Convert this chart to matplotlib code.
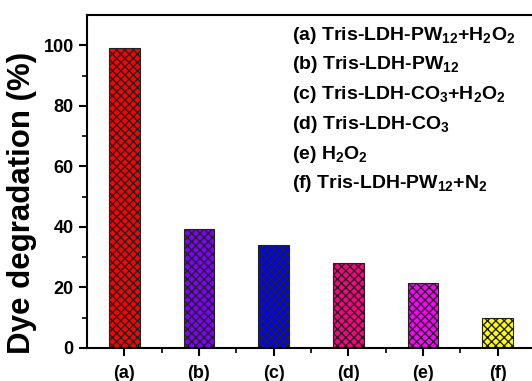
import matplotlib
matplotlib.use('Agg')
import matplotlib.pyplot as plt
import numpy as np

plt.rcParams['font.family'] = ['Liberation Sans', 'DejaVu Sans']
plt.rcParams['font.weight'] = 'bold'
plt.rcParams['mathtext.fontset'] = 'custom'
plt.rcParams['mathtext.rm'] = 'Liberation Sans:bold'
plt.rcParams['mathtext.bf'] = 'Liberation Sans:bold'
plt.rcParams['mathtext.it'] = 'Liberation Sans:bold'
plt.rcParams['mathtext.default'] = 'bf'
plt.rcParams['hatch.linewidth'] = 1.0

# data
kategorije = ['(a)', '(b)', '(c)', '(d)', '(e)', '(f)']
degradacija = [99.0, 39.3, 34.0, 28.0, 21.6, 10.0]
boje = ['#ff0000', '#8000ff', '#0000ff', '#ff0080', '#ff00ff', '#ffff00']
opisi = [r'(a) Tris-LDH-PW$_{12}$+H$_2$O$_2$',
         r'(b) Tris-LDH-PW$_{12}$',
         r'(c) Tris-LDH-CO$_3$+H$_2$O$_2$',
         r'(d) Tris-LDH-CO$_3$',
         r'(e) H$_2$O$_2$',
         r'(f) Tris-LDH-PW$_{12}$+N$_2$']

fig = plt.figure(figsize=(5.32, 3.81), dpi=100)
ax = fig.add_axes([87/532, (381-348)/381, (535-87)/532, (348-15)/381])

x = np.arange(1, len(kategorije) + 1)
ax.bar(x, degradacija, width=0.41, color=boje, edgecolor='#222222',
       linewidth=0.8, hatch='xxxx')

ax.set_xlim(0.5, 6.5)
ax.set_ylim(0, 110)
ax.set_xticks(x)
ax.set_xticklabels(kategorije, fontsize=13, fontweight='bold')
ax.set_xticks(x[:-1] + 0.5, minor=True)
ax.set_yticks(np.arange(0, 101, 20))
ax.set_yticks(np.arange(10, 101, 20), minor=True)
for lab in ax.get_yticklabels():
    lab.set_fontsize(13)
    lab.set_fontweight('bold')
ax.tick_params(which='major', direction='out', length=6, width=1.5)
ax.tick_params(which='minor', direction='out', length=3.5, width=1.2)
ax.tick_params(axis='x', pad=6)
for s in ax.spines.values():
    s.set_linewidth(1.5)
ax.set_ylabel('Dye degradation (%)', fontsize=22.5, fontweight='bold')
ax.yaxis.set_label_coords(-0.112, 0.435)

# opisi
for i, t in enumerate(opisi):
    fig.text(292/532, 1 - (35 + i*29.8)/381, t, fontsize=14, fontweight='bold',
             va='center', ha='left')

plt.savefig('out.png', dpi=100)
